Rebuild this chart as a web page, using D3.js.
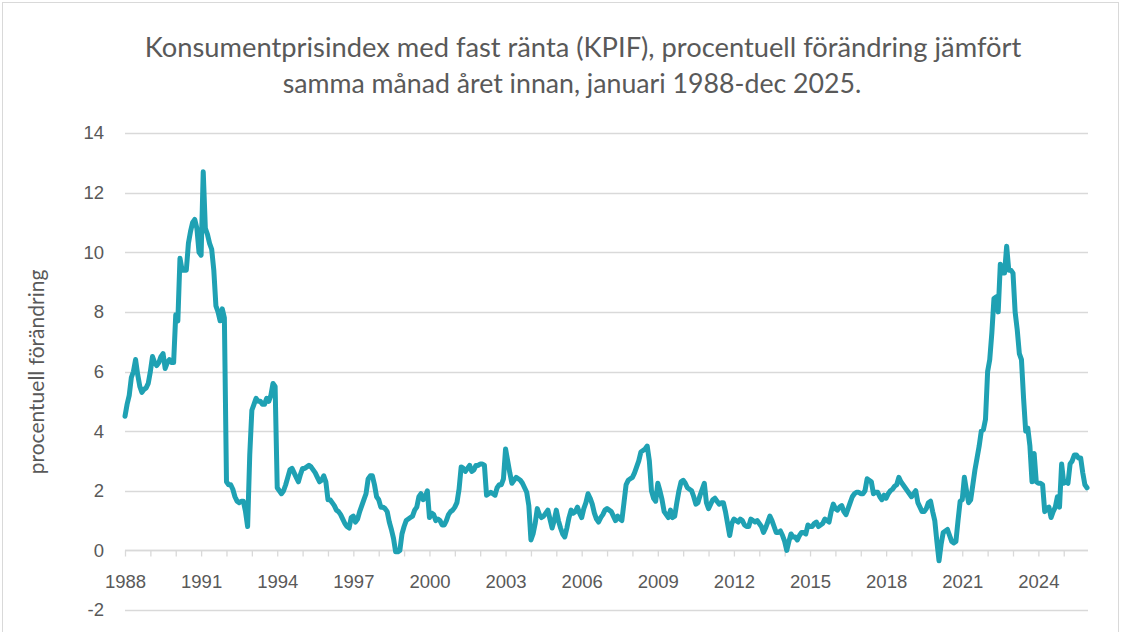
<!DOCTYPE html>
<html>
<head>
<meta charset="utf-8">
<script src="https://cdn.jsdelivr.net/npm/d3@7"></script>
<style>
  body { margin: 0; background: #fff; }
  svg { font-family: Lato, "Open Sans", sans-serif; }
  .axis text { fill: #595959; }
</style>
</head>
<body>
<svg width="1134" height="632"></svg>
<script>
// KPIF, % change vs same month previous year, monthly Jan 1988 - Dec 2025
var kpif = [
  /* 1988 */ 4.5, 4.9, 5.2, 5.8, 6.0, 6.4, 5.9, 5.5, 5.3, 5.4, 5.45, 5.6,
  /* 1989 */ 6.0, 6.5, 6.3, 6.2, 6.3, 6.5, 6.6, 6.1, 6.3, 6.4, 6.3, 6.3,
  /* 1990 */ 7.9, 7.7, 9.8, 9.4, 9.4, 9.4, 10.3, 10.7, 11.0, 11.1, 10.8, 10.0,
  /* 1991 */ 9.9, 12.7, 10.8, 10.6, 10.3, 10.1, 9.4, 8.2, 8.0, 7.7, 8.1, 7.8,
  /* 1992 */ 2.3, 2.2, 2.2, 2.05, 1.8, 1.65, 1.6, 1.65, 1.65, 1.3, 0.8, 3.2,
  /* 1993 */ 4.7, 4.9, 5.1, 5.0, 5.0, 4.9, 4.9, 5.1, 5.0, 5.2, 5.6, 5.5,
  /* 1994 */ 2.1, 2.0, 1.9, 2.0, 2.2, 2.45, 2.7, 2.75, 2.6, 2.45, 2.3, 2.55,
  /* 1995 */ 2.75, 2.75, 2.8, 2.85, 2.8, 2.7, 2.6, 2.45, 2.3, 2.35, 2.5, 2.3,
  /* 1996 */ 1.7, 1.7, 1.6, 1.5, 1.35, 1.3, 1.2, 1.05, 0.9, 0.8, 0.75, 1.1,
  /* 1997 */ 1.15, 0.95, 1.05, 1.3, 1.5, 1.7, 1.9, 2.4, 2.5, 2.5, 2.2, 1.8,
  /* 1998 */ 1.7, 1.45, 1.45, 1.4, 1.3, 0.95, 0.7, 0.4, -0.05, -0.05, 0.0, 0.55,
  /* 1999 */ 0.8, 1.0, 1.05, 1.1, 1.15, 1.35, 1.45, 1.8, 1.9, 1.7, 1.8, 2.0,
  /* 2000 */ 1.1, 1.25, 1.2, 1.0, 1.05, 1.0, 0.85, 0.85, 1.0, 1.2, 1.3, 1.35,
  /* 2001 */ 1.45, 1.6, 2.05, 2.8, 2.75, 2.65, 2.75, 2.85, 2.65, 2.7, 2.85, 2.85,
  /* 2002 */ 2.9, 2.9, 2.85, 1.85, 1.9, 1.95, 1.9, 1.85, 2.1, 2.2, 2.2, 2.4,
  /* 2003 */ 3.4, 3.0, 2.6, 2.25, 2.35, 2.45, 2.4, 2.35, 2.25, 2.1, 1.95, 1.5,
  /* 2004 */ 0.35, 0.55, 0.9, 1.4, 1.2, 1.1, 1.15, 1.25, 1.35, 1.05, 0.75, 1.0,
  /* 2005 */ 1.35, 1.0, 0.75, 0.55, 0.45, 0.75, 1.1, 1.35, 1.25, 1.3, 1.45, 1.25,
  /* 2006 */ 1.1, 1.4, 1.6, 1.9, 1.75, 1.55, 1.25, 1.05, 0.95, 1.1, 1.2, 1.35,
  /* 2007 */ 1.4, 1.35, 1.3, 1.15, 1.0, 1.15, 1.05, 1.0, 1.6, 2.2, 2.35, 2.4,
  /* 2008 */ 2.45, 2.6, 2.8, 3.0, 3.3, 3.35, 3.4, 3.5, 3.0, 2.0, 1.75, 1.65,
  /* 2009 */ 2.25, 2.0, 1.7, 1.3, 1.2, 1.1, 1.35, 1.1, 1.15, 1.6, 2.0, 2.3,
  /* 2010 */ 2.35, 2.25, 2.1, 2.05, 2.0, 1.8, 1.55, 1.6, 1.85, 2.05, 2.25, 1.6,
  /* 2011 */ 1.4, 1.55, 1.7, 1.75, 1.65, 1.55, 1.6, 1.6, 1.3, 0.9, 0.5, 0.9,
  /* 2012 */ 1.05, 1.0, 0.95, 1.05, 1.0, 0.85, 0.8, 0.8, 1.05, 1.0, 0.95, 1.0,
  /* 2013 */ 0.9, 0.8, 0.6, 0.75, 0.95, 1.15, 1.0, 0.8, 0.6, 0.6, 0.65, 0.5,
  /* 2014 */ 0.3, 0.0, 0.3, 0.55, 0.45, 0.45, 0.35, 0.5, 0.6, 0.6, 0.55, 0.85,
  /* 2015 */ 0.8, 0.8, 0.9, 0.95, 0.8, 0.85, 0.9, 1.05, 1.0, 0.95, 1.3, 1.55,
  /* 2016 */ 1.4, 1.35, 1.45, 1.5, 1.3, 1.2, 1.4, 1.6, 1.8, 1.9, 1.95, 1.95,
  /* 2017 */ 1.9, 1.9, 2.0, 2.4, 2.35, 2.3, 1.9, 1.95, 1.95, 1.8, 1.7, 1.85,
  /* 2018 */ 1.75, 1.9, 2.0, 2.05, 2.15, 2.2, 2.45, 2.3, 2.2, 2.1, 2.0, 1.9,
  /* 2019 */ 1.8, 1.9, 2.0, 1.6, 1.45, 1.3, 1.3, 1.4, 1.6, 1.65, 1.3, 1.0,
  /* 2020 */ 0.3, -0.35, 0.2, 0.6, 0.65, 0.7, 0.5, 0.3, 0.25, 0.3, 1.0, 1.65,
  /* 2021 */ 1.7, 2.45, 2.0, 1.6, 1.7, 2.2, 2.7, 3.1, 3.5, 4.0, 4.05, 4.4,
  /* 2022 */ 6.0, 6.4, 7.3, 8.45, 8.5, 8.0, 9.6, 9.3, 9.3, 10.2, 9.4, 9.4,
  /* 2023 */ 9.3, 8.0, 7.4, 6.6, 6.4, 5.1, 4.0, 4.1, 3.5, 2.3, 3.25, 2.3,
  /* 2024 */ 2.25, 2.25, 2.2, 1.3, 1.4, 1.45, 1.1, 1.3, 1.45, 1.8, 1.45, 2.9,
  /* 2025 */ 2.25, 2.3, 2.25, 2.9, 3.0, 3.2, 3.2, 3.1, 3.1, 2.6, 2.2, 2.1
];

var firstYear = 1988;
var yTicks = [-2, 0, 2, 4, 6, 8, 10, 12, 14];
var xLabelYears = [1988, 1991, 1994, 1997, 2000, 2003, 2006, 2009, 2012, 2015, 2018, 2021, 2024];
var titleLines = [
  "Konsumentprisindex med fast ränta (KPIF), procentuell förändring jämfört",
  "samma månad året innan, januari 1988-dec 2025."
];
var yTitle = "procentuell förändring";

var svg = d3.select("svg");
var grey = "#595959";

// chart area border
svg.append("rect")
    .attr("x", 2.5).attr("y", 2.5)
    .attr("width", 1116).attr("height", 700)
    .attr("fill", "none")
    .attr("stroke", "#d9d9d9");

var x = d3.scaleLinear()
    .domain([0, kpif.length - 1])
    .range([125, 1087]);

var y = d3.scaleLinear()
    .domain([-2, 14])
    .range([610, 133]);

// gridlines
svg.append("g")
  .selectAll("line")
  .data(yTicks)
  .enter().append("line")
    .attr("x1", x.range()[0])
    .attr("x2", x.range()[1] + 1)
    .attr("y1", function(d) { return Math.round(y(d)) + 0.5; })
    .attr("y2", function(d) { return Math.round(y(d)) + 0.5; })
    .attr("stroke", "#d9d9d9")
    .attr("stroke-width", 1.3);

// y axis labels (plain hyphen for negatives, like the original)
var yAxis = svg.append("g")
    .attr("class", "axis")
    .attr("transform", "translate(125,0)")
    .call(d3.axisLeft(y)
      .tickValues(yTicks)
      .tickSize(0)
      .tickPadding(21)
      .tickFormat(function(d) { return String(d); }));
yAxis.select(".domain").remove();
yAxis.selectAll("text").style("font-size", "18.5px").attr("fill", grey);

// x axis at zero: tick every year, label every third year
var yearTicks = d3.range(0, kpif.length, 12);
var xAxis = svg.append("g")
    .attr("class", "axis")
    .attr("transform", "translate(0," + (Math.round(y(0)) + 0.5) + ")")
    .call(d3.axisBottom(x)
      .tickValues(yearTicks)
      .tickSize(6)
      .tickPadding(18)
      .tickFormat(function(i) {
        var yr = firstYear + i / 12;
        return xLabelYears.indexOf(yr) >= 0 ? yr : "";
      }));
xAxis.select(".domain")
    .attr("d", "M" + x.range()[0] + ",0H" + (x.range()[1] + 1))
    .attr("stroke", "#d9d9d9")
    .attr("stroke-width", 1.5);
xAxis.selectAll(".tick line").attr("stroke", "#d9d9d9").attr("stroke-width", 1.3);
xAxis.selectAll("text").style("font-size", "18.5px").attr("fill", grey);

// line
var line = d3.line()
    .x(function(d, i) { return x(i); })
    .y(function(d) { return y(d); });

svg.append("path")
    .datum(kpif)
    .attr("fill", "none")
    .attr("stroke", "#1fa1b3")
    .attr("stroke-width", 5)
    .attr("stroke-linejoin", "round")
    .attr("stroke-linecap", "round")
    .attr("d", line);

// title, each line scaled to the width it has in the original
var titleCenters = [583, 572];
var titleWidth = [877, 579];
titleLines.forEach(function(t, k) {
  var txt = svg.append("text")
      .attr("x", titleCenters[k])
      .attr("y", 57 + k * 36)
      .attr("text-anchor", "middle")
      .attr("fill", grey)
      .style("font-size", "24px")
      .text(t);
  var w = txt.node().getComputedTextLength();
  txt.style("font-size", (24 * titleWidth[k] / w) + "px");
});

// y axis title
var yt = svg.append("text")
    .attr("transform", "translate(44,372) rotate(-90)")
    .attr("text-anchor", "middle")
    .attr("fill", grey)
    .style("font-size", "18.5px")
    .text(yTitle);
var yw = yt.node().getComputedTextLength();
yt.style("font-size", Math.min(21, 18.5 * 218 / yw) + "px");
</script>
</body>
</html>
